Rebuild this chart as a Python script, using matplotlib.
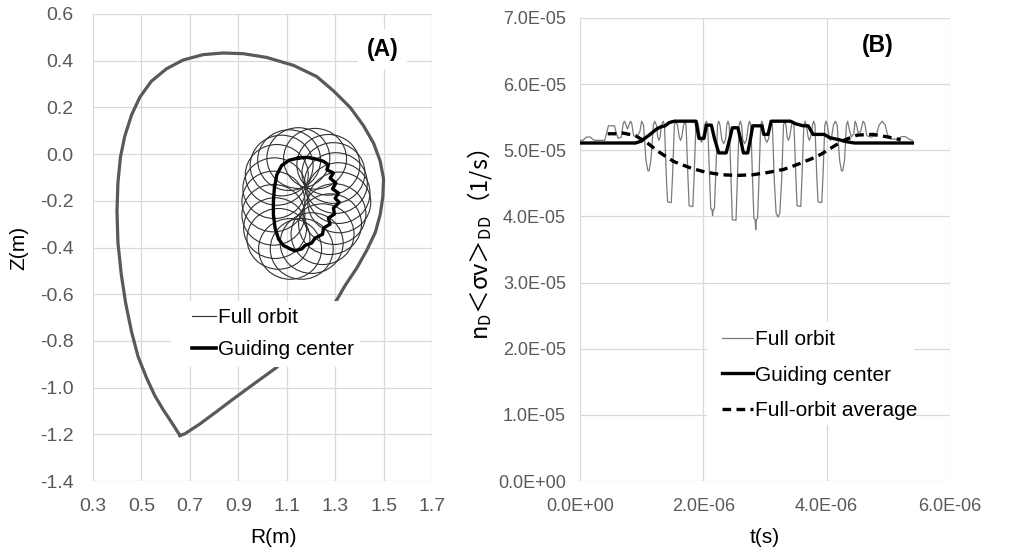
import numpy as np
import matplotlib
matplotlib.use("Agg")
import matplotlib.pyplot as plt
from matplotlib.patches import Rectangle, Circle
from matplotlib.ticker import MultipleLocator, FixedLocator, FuncFormatter

plt.rcParams['font.family'] = ['Liberation Sans', 'DejaVu Sans']
plt.rcParams['mathtext.fontset'] = 'custom'
plt.rcParams['mathtext.rm'] = 'Liberation Sans'
plt.rcParams['mathtext.it'] = 'Liberation Sans:italic'
plt.rcParams['mathtext.bf'] = 'Liberation Sans:bold'

# ---------------- (A) poloidal cross-section ----------------
# last closed flux surface (m), starting at the X-point
boundary_R = [0.659, 0.624, 0.59, 0.555, 0.521, 0.486, 0.459, 0.435, 0.417, 0.403,
              0.399, 0.403, 0.413, 0.431, 0.459, 0.493, 0.541, 0.603, 0.672, 0.755,
              0.838, 0.921, 1.017, 1.128, 1.224, 1.293, 1.362, 1.417, 1.459, 1.486,
              1.500, 1.497, 1.486, 1.466, 1.431, 1.390, 1.341, 1.307, 1.19, 1.059,
              0.962, 0.879, 0.810, 0.741, 0.679, 0.659]
boundary_Z = [-1.205, -1.148, -1.095, -1.034, -0.958, -0.867, -0.760, -0.639, -0.517, -0.380,
              -0.243, -0.122, -0.015, 0.076, 0.167, 0.243, 0.312, 0.365, 0.403, 0.426,
              0.433, 0.430, 0.414, 0.380, 0.332, 0.271, 0.200, 0.122, 0.046, -0.030,
              -0.106, -0.183, -0.259, -0.335, -0.411, -0.487, -0.563, -0.624, -0.78, -0.913,
              -0.986, -1.049, -1.103, -1.156, -1.198, -1.205]

# guiding-centre orbit (m)
gc_R = [1.148, 1.183, 1.217, 1.252, 1.272, 1.266, 1.293, 1.279, 1.303, 1.289,
        1.314, 1.300, 1.317, 1.293, 1.297, 1.272, 1.279, 1.252, 1.248, 1.217,
        1.203, 1.176, 1.162, 1.134, 1.114, 1.086, 1.066, 1.052, 1.045, 1.045,
        1.049, 1.059, 1.079, 1.110]
gc_Z = [-0.017, -0.014, -0.020, -0.031, -0.046, -0.067, -0.081, -0.103, -0.124, -0.149,
        -0.167, -0.189, -0.207, -0.231, -0.257, -0.274, -0.300, -0.317, -0.343, -0.360,
        -0.381, -0.391, -0.406, -0.414, -0.406, -0.391, -0.363, -0.317, -0.260, -0.203,
        -0.146, -0.089, -0.049, -0.026]

# gyration centres of the full orbit and Larmor radius (m)
gyro_R = [1.148, 1.217, 1.272, 1.293, 1.303, 1.314, 1.317, 1.297, 1.279, 1.248,
          1.203, 1.162, 1.114, 1.066, 1.052, 1.045, 1.045, 1.049, 1.059, 1.079, 1.110]
gyro_Z = [-0.017, -0.020, -0.046, -0.081, -0.124, -0.167, -0.207, -0.257, -0.300, -0.343,
          -0.381, -0.406, -0.406, -0.363, -0.317, -0.260, -0.203, -0.146, -0.089, -0.049, -0.026]
larmor_radius = 0.13

# ---------------- (B) DD reaction rate along the orbit ----------------
# time in microseconds, rate in units of 1e-5 1/s
t_full_us = [0.00, 0.05, 0.08, 0.11, 0.17, 0.20, 0.23, 0.40, 0.43, 0.46, 0.56, 0.59, 0.62, 0.67,
             0.70, 0.72, 0.74, 0.77, 0.80, 0.82, 0.84, 0.87, 0.92, 0.97, 1.00, 1.03, 1.07, 1.10,
             1.12, 1.15, 1.19, 1.21, 1.24, 1.26, 1.28, 1.30, 1.32, 1.35, 1.37, 1.40, 1.42, 1.48,
             1.50, 1.53, 1.55, 1.58, 1.61, 1.63, 1.65, 1.68, 1.70, 1.72, 1.75, 1.77, 1.83, 1.85,
             1.88, 1.90, 1.92, 1.95, 1.97, 1.99, 2.02, 2.05, 2.07, 2.10, 2.12, 2.14, 2.15, 2.16,
             2.18, 2.20, 2.23, 2.25, 2.27, 2.30, 2.33, 2.36, 2.38, 2.40, 2.42, 2.45, 2.47, 2.53,
             2.55, 2.58, 2.60, 2.62, 2.64, 2.67, 2.70, 2.73, 2.75, 2.77, 2.80, 2.82, 2.84, 2.85,
             2.86, 2.88, 2.90, 2.93, 2.95, 2.97, 3.00, 3.03, 3.06, 3.08, 3.10, 3.12, 3.15, 3.18,
             3.21, 3.24, 3.27, 3.30, 3.32, 3.34, 3.36, 3.38, 3.40, 3.43, 3.45, 3.47, 3.50, 3.52,
             3.58, 3.60, 3.63, 3.65, 3.67, 3.70, 3.72, 3.74, 3.77, 3.79, 3.81, 3.84, 3.86, 3.92,
             3.94, 3.97, 3.99, 4.01, 4.04, 4.06, 4.08, 4.11, 4.14, 4.17, 4.21, 4.24, 4.26, 4.29,
             4.32, 4.34, 4.37, 4.40, 4.44, 4.46, 4.48, 4.51, 4.55, 4.59, 4.62, 4.65, 4.72, 4.80,
             4.85, 4.90, 4.95, 4.99, 5.05, 5.15, 5.20, 5.25, 5.29, 5.33, 5.39]
rate_full = [5.15, 5.15, 5.18, 5.20, 5.20, 5.17, 5.15, 5.15, 5.25, 5.37, 5.37, 5.25, 5.18, 5.20,
             5.40, 5.44, 5.40, 5.32, 5.40, 5.44, 5.40, 5.22, 5.20, 5.28, 5.44, 5.38, 4.85, 4.69,
             4.69, 4.85, 5.38, 5.44, 5.38, 5.20, 5.15, 5.20, 5.38, 5.44, 5.38, 4.60, 4.22, 4.21,
             4.60, 5.38, 5.44, 5.38, 5.20, 5.15, 5.20, 5.38, 5.44, 5.38, 4.60, 4.16, 4.15, 4.60,
             5.38, 5.44, 5.38, 5.18, 5.12, 5.18, 5.38, 5.44, 5.38, 4.60, 4.12, 4.10, 4.01, 4.10,
             4.12, 4.60, 5.38, 5.44, 5.38, 5.16, 5.10, 5.16, 5.38, 5.44, 5.38, 4.50, 3.95, 3.94,
             4.50, 5.38, 5.44, 5.38, 5.16, 5.10, 5.16, 5.38, 5.44, 5.38, 4.50, 3.97, 3.95, 3.80,
             3.95, 3.97, 4.50, 5.38, 5.44, 5.38, 5.18, 5.12, 5.18, 5.38, 5.44, 5.38, 4.55, 4.05,
             3.99, 4.05, 4.55, 5.38, 5.44, 5.38, 5.20, 5.15, 5.20, 5.38, 5.44, 5.38, 4.60, 4.16,
             4.15, 4.60, 5.38, 5.44, 5.38, 5.20, 5.15, 5.20, 5.38, 5.44, 5.38, 4.60, 4.22, 4.21,
             4.60, 5.38, 5.44, 5.38, 5.20, 5.15, 5.20, 5.38, 5.44, 5.38, 4.85, 4.69, 4.69, 4.85,
             5.38, 5.44, 5.30, 5.20, 5.25, 5.44, 5.40, 5.27, 5.28, 5.44, 5.40, 5.22, 5.20, 5.22,
             5.38, 5.44, 5.38, 5.22, 5.17, 5.17, 5.20, 5.21, 5.20, 5.17, 5.15]

t_gc_us = [0.00, 0.90, 1.00, 1.05, 1.15, 1.24, 1.30, 1.38, 1.45, 1.53, 1.88, 1.93, 2.01, 2.05,
           2.13, 2.18, 2.25, 2.37, 2.43, 2.47, 2.56, 2.60, 2.65, 2.72, 2.77, 2.80, 2.95, 2.98,
           3.05, 3.10, 3.41, 3.50, 3.62, 3.70, 3.78, 3.96, 4.05, 4.20, 4.32, 4.45, 5.39]
rate_gc = [5.11, 5.11, 5.14, 5.18, 5.25, 5.32, 5.35, 5.37, 5.42, 5.44, 5.44, 5.18, 5.18, 5.38,
           5.38, 5.18, 4.96, 4.96, 5.18, 5.34, 5.34, 5.18, 4.96, 4.96, 5.20, 5.37, 5.37, 5.24,
           5.24, 5.44, 5.44, 5.40, 5.37, 5.37, 5.24, 5.24, 5.19, 5.16, 5.13, 5.11, 5.11]

t_avg_us = [0.45, 0.60, 0.70, 0.90, 1.08, 1.27, 1.52, 1.80, 2.03, 2.30, 2.55, 2.80, 3.02, 3.30,
            3.51, 3.75, 3.91, 4.15, 4.30, 4.50, 4.75, 5.00, 5.20]
rate_avg = [5.25, 5.25, 5.26, 5.22, 5.12, 4.98, 4.83, 4.73, 4.67, 4.63, 4.62, 4.63, 4.66, 4.71,
            4.78, 4.87, 4.94, 5.08, 5.16, 5.23, 5.24, 5.20, 5.16]

R_ticks = [0.3, 0.5, 0.7, 0.9, 1.1, 1.3, 1.5, 1.7]

TICK_COLOR = '#595959'
GRID_COLOR = '#d9d9d9'

fig = plt.figure(figsize=(10.3, 5.55), dpi=100)
W, H = 1030.0, 555.0
axA = fig.add_axes([93 / W, 1 - 481 / H, 339 / W, 467 / H])
axB = fig.add_axes([580 / W, 1 - 481 / H, 370 / W, 463 / H])

for ax in (axA, axB):
    for s in ax.spines.values():
        s.set_visible(False)
    ax.set_axisbelow(True)
    ax.grid(True, color=GRID_COLOR, linewidth=0.9)
    ax.tick_params(length=0, colors=TICK_COLOR)

# ---- panel A ----
axA.set_xlim(0.3, 1.7)
axA.set_ylim(-1.4, 0.6)
axA.xaxis.set_major_locator(FixedLocator(R_ticks))
axA.yaxis.set_major_locator(MultipleLocator(0.2))
fmtA = FuncFormatter(lambda v, p: f"{round(v, 6) + 0.0:.1f}")
axA.xaxis.set_major_formatter(fmtA)
axA.yaxis.set_major_formatter(fmtA)
axA.tick_params(axis='both', labelsize=14)
axA.tick_params(axis='y', pad=14)
axA.tick_params(axis='x', pad=12)

axA.plot(boundary_R, boundary_Z, color='#595959', lw=2.3, solid_joinstyle='round', zorder=2)
for r0, z0 in zip(gyro_R, gyro_Z):
    axA.add_patch(Circle((r0, z0), larmor_radius, fill=False, edgecolor='#303030',
                         linewidth=0.8, zorder=3))
axA.plot(gc_R + gc_R[:1], gc_Z + gc_Z[:1], color='black', lw=2.4, zorder=4)

axA.add_patch(Rectangle((0.624, -0.91), 0.78, 0.28, facecolor='white', edgecolor='none',
                        zorder=6))
hA1, = axA.plot([], [], color='#303030', lw=0.8, label='Full orbit')
hA2, = axA.plot([], [], color='black', lw=2.6, label='Guiding center')
axA.legend(handles=[hA1, hA2], loc='center left', bbox_to_anchor=(0.707, -0.768),
           bbox_transform=axA.transData, frameon=False, fontsize=15,
           handlelength=1.15, handletextpad=0.12, labelspacing=0.62,
           borderpad=0.0, borderaxespad=0.0).set_zorder(7)

axA.text(1.496, 0.45, '(A)', fontsize=16.5, fontweight='bold', ha='center', va='center',
         bbox=dict(facecolor='white', edgecolor='none', pad=6), zorder=6)
axA.set_xlabel('R(m)', fontsize=15)
axA.set_ylabel('Z(m)', fontsize=15)
axA.xaxis.set_label_coords(0.532, -0.10)
axA.yaxis.set_label_coords(-0.19, 0.5)

# ---- panel B ----
axB.set_xlim(0, 6e-6)
axB.set_ylim(0, 7e-5)
axB.xaxis.set_major_locator(MultipleLocator(2e-6))
axB.yaxis.set_major_locator(MultipleLocator(1e-5))
fmtB = FuncFormatter(lambda v, p: f"{v:.1E}")
axB.xaxis.set_major_formatter(fmtB)
axB.yaxis.set_major_formatter(fmtB)
axB.tick_params(axis='both', labelsize=13)
axB.tick_params(axis='y', pad=10)
axB.tick_params(axis='x', pad=12)

t_full = np.array(t_full_us) * 1e-6
t_gc = np.array(t_gc_us) * 1e-6
t_avg = np.array(t_avg_us) * 1e-6
axB.plot(t_full, np.array(rate_full) * 1e-5, color='#7a7a7a', lw=0.9, zorder=2,
         label='Full orbit')
axB.plot(t_avg, np.array(rate_avg) * 1e-5, color='black', lw=2.4, ls=(0, (2.6, 1.6)),
         zorder=3, label='Full-orbit average')
axB.plot(t_gc, np.array(rate_gc) * 1e-5, color='black', lw=2.4, zorder=4,
         label='Guiding center')

axB.add_patch(Rectangle((2.06e-6, 0.85e-5), 3.36e-6, 1.55e-5, facecolor='white',
                        edgecolor='none', zorder=6))
hB = axB.get_legend_handles_labels()
order = [0, 2, 1]
axB.legend([hB[0][i] for i in order], [hB[1][i] for i in order], loc='center left',
           bbox_to_anchor=(2.31e-6, 1.6e-5), bbox_transform=axB.transData, frameon=False,
           fontsize=15, handlelength=1.45, handletextpad=0.1, labelspacing=0.78,
           borderpad=0.0, borderaxespad=0.0).set_zorder(7)

axB.text(4.83e-6, 6.58e-5, '(B)', fontsize=16.5, fontweight='bold', ha='center', va='center',
         zorder=6)
axB.set_xlabel('t(s)', fontsize=15)
axB.xaxis.set_label_coords(0.5, -0.102)
axB.set_ylabel(r'$\mathregular{n_D}$＜σv＞$\mathregular{_{DD}}$（1/s）', fontsize=17,
               family=['Noto Sans CJK SC', 'DejaVu Sans'])
axB.yaxis.set_label_coords(-0.232, 0.51)

fig.savefig('out.png', dpi=100)
